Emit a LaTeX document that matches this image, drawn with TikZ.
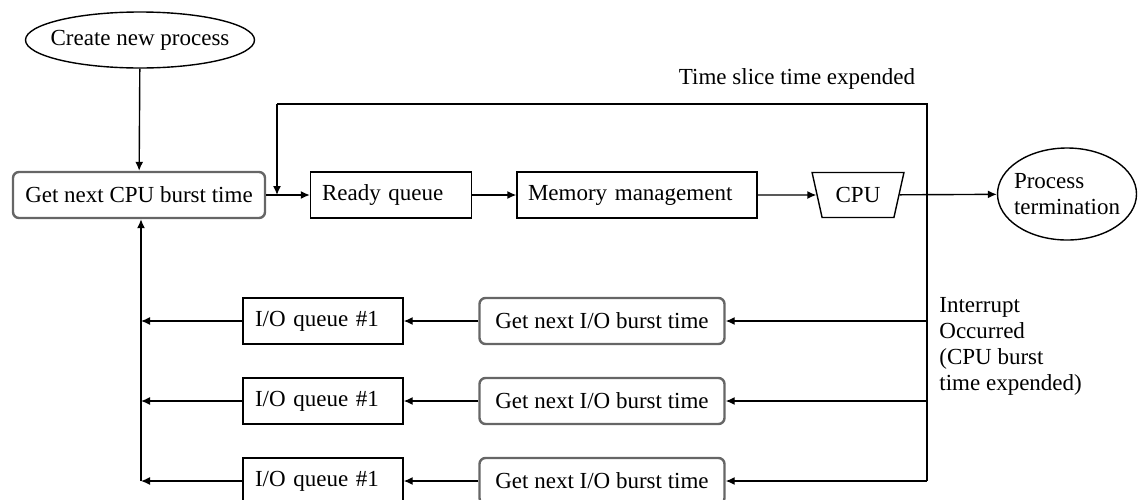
\documentclass[tikz,border=0pt]{standalone}
\usepackage{fontspec}
\setmainfont{Liberation Serif}
\usepackage{tikz}
\usetikzlibrary{positioning,calc,shapes.geometric,arrows.meta}

\begin{document}
\begin{tikzpicture}[x=0.5pt,y=-0.5pt,
		font=\fontsize{11.5}{13}\selectfont,
		line/.style={line width=0.7pt},
		arr/.style={line width=0.7pt,-{Latex[length=4.5pt,width=4pt]}},
		plainbox/.style={draw=black,line width=0.7pt,minimum height=23pt,inner sep=0pt},
		roundbox/.style={draw=black!60,line width=1.2pt,rounded corners=3pt,minimum height=23pt,inner sep=0pt},
		oval/.style={draw=black,ellipse,line width=0.7pt,inner ysep=0pt}]
		\useasboundingbox (0,0) rectangle (1138,499);

		% top row
		\node[oval, inner xsep=-5pt, minimum width=114.5pt, minimum height=28pt] (create) at (140,40) {Create new process};
		\node[roundbox, minimum width=126pt] (getcpu) at (139,195) {Get next CPU burst time};
		\node[plainbox, minimum width=80.5pt, text width=69pt] (ready) at (391,195) {Ready queue};
		\node[plainbox, minimum width=120pt, text width=109pt] (mem) at (637,195) {Memory management};
		\node[draw=black, line width=0.7pt, trapezium, shape border rotate=180, trapezium stretches=true,
			trapezium left angle=68, trapezium right angle=68, minimum width=46pt, minimum height=22.5pt,
			inner sep=0pt] (cpu) at (858,195) {CPU};
		\node[oval, inner xsep=-2.8pt, minimum width=69.5pt, minimum height=46pt, align=left] (term) at (1067,194) {Process\\termination};
		\node (slice) at (797,79) {Time slice time expended};

		% bottom rows
		\node[plainbox, minimum width=80pt, text width=68pt] (ioq1) at (323,321) {I/O queue \#1};
		\node[plainbox, minimum width=80pt, text width=68pt] (ioq2) at (323,401) {I/O queue \#1};
		\node[plainbox, minimum width=80pt, text width=68pt] (ioq3) at (323,481) {I/O queue \#1};
		\node[roundbox, minimum width=122.5pt] (ionext1) at (602,321) {Get next I/O burst time};
		\node[roundbox, minimum width=122.5pt] (ionext2) at (602,401) {Get next I/O burst time};
		\node[roundbox, minimum width=122.5pt] (ionext3) at (602,481) {Get next I/O burst time};
		\node[anchor=north west, align=left, inner sep=0pt] (intr) at (939,297) {Interrupt\\Occurred\\(CPU burst\\time expended)};

		% loop coordinates
		\coordinate (tl) at (277,104);
		\coordinate (tr) at (927,104);
		\coordinate (tm) at (277,195);
		\coordinate (j1) at (927,321);
		\coordinate (j2) at (927,401);
		\coordinate (j3) at (927,481);
		\coordinate (l1) at (141,321);
		\coordinate (l2) at (141,401);
		\coordinate (l3) at (141,481);

		\draw[arr] (create) -- (getcpu);
		\draw[arr] (getcpu) -- (ready);
		\draw[arr] (ready) -- (mem);
		\draw[arr] (mem) -- (cpu);
		\draw[arr] (cpu) -- (term);
		\draw[line] (tm |- tl) -- (tr) -- (j3);
		\draw[arr] (tl) -- (tm);

		\draw[arr] (j1) -- (ionext1);
		\draw[arr] (j2) -- (ionext2);
		\draw[arr] (j3) -- (ionext3);
		\draw[arr] (ionext1) -- (ioq1);
		\draw[arr] (ionext2) -- (ioq2);
		\draw[arr] (ionext3) -- (ioq3);
		\draw[arr] (ioq1) -- (l1);
		\draw[arr] (ioq2) -- (l2);
		\draw[arr] (ioq3) -- (l3);
		\draw[arr] (l3) -- (getcpu.south -| l3);
	\end{tikzpicture}
\end{document}
